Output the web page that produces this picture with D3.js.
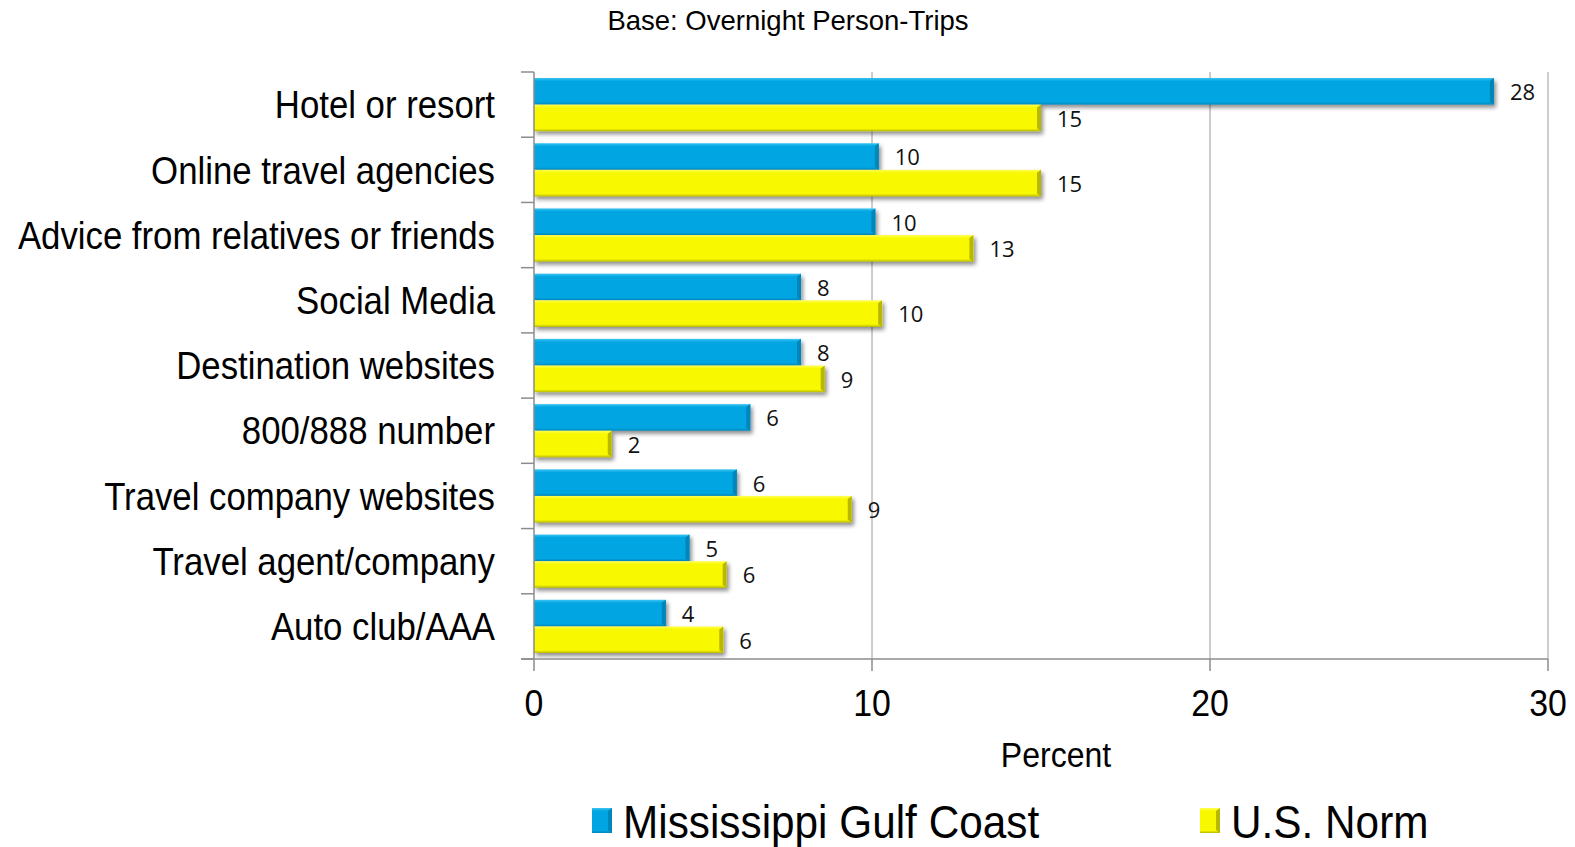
<!DOCTYPE html>
<html>
<head>
<meta charset="utf-8">
<script src="https://cdn.jsdelivr.net/npm/d3@7"></script>
<style>
  html, body { margin: 0; padding: 0; background: #fff; }
  svg { display: block; }
</style>
</head>
<body>
<svg id="chart" width="1575" height="847"></svg>
<script>
// Sources used for planning, overnight person-trips (percent)
const categories = [
  "Hotel or resort",
  "Online travel agencies",
  "Advice from relatives or friends",
  "Social Media",
  "Destination websites",
  "800/888 number",
  "Travel company websites",
  "Travel agent/company",
  "Auto club/AAA"
];
const seriesNames = ["Mississippi Gulf Coast", "U.S. Norm"];
const gulfCoast = [28.4, 10.2, 10.1, 7.9, 7.9, 6.4, 6.0, 4.6, 3.9];
const usNorm    = [15.0, 15.0, 13.0, 10.3, 8.6, 2.3, 9.4, 5.7, 5.6];
const xTicks = [0, 10, 20, 30];

const seriesValues = [gulfCoast, usNorm];
const colors = [
  { base: "#00A5E1", light: "#3CC4F2", dark: "#0086B8" },
  { base: "#F8F800", light: "#FFFF55", dark: "#B8B800" }
];

const svg = d3.select("#chart");
const m = { left: 534, right: 1548, top: 72, bottom: 659 };
const narrow = "'Liberation Sans', Arial, sans-serif";
const squeeze = 0.915;   // horizontal condensing for the narrow-style labels

const x = d3.scaleLinear().domain([0, 30]).range([m.left, m.right]);
const y = d3.scaleBand().domain(categories).range([m.top, m.bottom]).padding(0);
const ySub = d3.scaleBand().domain(seriesNames)
  .range([6, y.bandwidth() - 6]).padding(0);

const defs = svg.append("defs");
const shadow = defs.append("filter").attr("id", "shadow")
  .attr("x", "-5%").attr("y", "-30%").attr("width", "115%").attr("height", "180%");
shadow.append("feGaussianBlur").attr("in", "SourceAlpha").attr("stdDeviation", 2.2);
shadow.append("feOffset").attr("dx", 2).attr("dy", 3).attr("result", "off");
shadow.append("feComponentTransfer").append("feFuncA").attr("type", "linear").attr("slope", 0.45);
const mrg = shadow.append("feMerge");
mrg.append("feMergeNode");
mrg.append("feMergeNode").attr("in", "SourceGraphic");

colors.forEach((c, i) => {
  const g = defs.append("linearGradient").attr("id", "grad" + i)
    .attr("x1", 0).attr("y1", 0).attr("x2", 0).attr("y2", 1);
  g.append("stop").attr("offset", "0%").attr("stop-color", c.light);
  g.append("stop").attr("offset", "12%").attr("stop-color", c.base);
  g.append("stop").attr("offset", "90%").attr("stop-color", c.base);
  g.append("stop").attr("offset", "100%").attr("stop-color", c.dark);
});

// gridlines
svg.append("g").selectAll("line").data(xTicks.filter(d => d > 0)).join("line")
  .attr("x1", d => x(d)).attr("x2", d => x(d))
  .attr("y1", m.top).attr("y2", m.bottom)
  .attr("stroke", "#9a9a9a").attr("stroke-width", 1);

// bars with value labels
const fmt = d3.format(".0f");
const groups = svg.append("g").selectAll("g").data(categories).join("g")
  .attr("transform", d => `translate(0,${y(d)})`);

seriesNames.forEach((s, si) => {
  const vals = seriesValues[si];
  const bar = groups.append("g").attr("filter", "url(#shadow)");
  bar.append("rect")
    .attr("x", x(0))
    .attr("y", ySub(s))
    .attr("width", (d, i) => x(vals[i]) - x(0))
    .attr("height", ySub.bandwidth())
    .attr("fill", `url(#grad${si})`);
  // bevelled right end
  bar.append("path")
    .attr("d", (d, i) => {
      const xe = x(vals[i]), y0 = ySub(s), h = ySub.bandwidth();
      return `M${xe - 4},${y0 + 3} L${xe},${y0} L${xe},${y0 + h} L${xe - 4},${y0 + h - 3} Z`;
    })
    .attr("fill", colors[si].dark);
  groups.append("text")
    .attr("x", (d, i) => x(vals[i]) + 16)
    .attr("y", ySub(s) + ySub.bandwidth() / 2 + 1)
    .attr("dy", "0.36em")
    .attr("font-family", "'Open Sans', 'Noto Sans', sans-serif")
    .attr("font-size", 22)
    .attr("fill", "#111")
    .text((d, i) => fmt(vals[i]));
});

// axes
const axisColor = "#8c8c8c";
const yAxis = svg.append("g");
yAxis.append("line").attr("x1", m.left).attr("x2", m.left)
  .attr("y1", m.top).attr("y2", m.bottom).attr("stroke", axisColor).attr("stroke-width", 1.5);
yAxis.selectAll("line.tick").data(d3.range(categories.length + 1)).join("line")
  .attr("class", "tick")
  .attr("x1", m.left - 13).attr("x2", m.left)
  .attr("y1", i => m.top + i * y.step()).attr("y2", i => m.top + i * y.step())
  .attr("stroke", axisColor).attr("stroke-width", 1.5);
yAxis.selectAll("text").data(categories).join("text")
  .attr("transform", d => `translate(495,${y(d) + y.bandwidth() / 2}) scale(${squeeze},1)`)
  .attr("dy", "0.36em")
  .attr("text-anchor", "end")
  .attr("font-family", narrow)
  .attr("font-size", 38)
  .attr("fill", "#000")
  .text(d => d);

const xAxis = svg.append("g");
xAxis.append("line").attr("x1", m.left - 13).attr("x2", m.right)
  .attr("y1", m.bottom).attr("y2", m.bottom).attr("stroke", axisColor).attr("stroke-width", 1.5);
xAxis.selectAll("line.tick").data(xTicks).join("line")
  .attr("class", "tick")
  .attr("x1", d => x(d)).attr("x2", d => x(d))
  .attr("y1", m.bottom).attr("y2", m.bottom + 12)
  .attr("stroke", axisColor).attr("stroke-width", 1.5);
xAxis.selectAll("text").data(xTicks).join("text")
  .attr("transform", d => `translate(${x(d)},716) scale(${squeeze},1)`)
  .attr("text-anchor", "middle")
  .attr("font-family", narrow)
  .attr("font-size", 37)
  .attr("fill", "#000")
  .text(d => d);

svg.append("text")
  .attr("transform", `translate(1056,767) scale(${squeeze},1)`)
  .attr("text-anchor", "middle")
  .attr("font-family", narrow)
  .attr("font-size", 35)
  .text("Percent");

svg.append("text")
  .attr("x", 788).attr("y", 30)
  .attr("text-anchor", "middle")
  .attr("font-family", "'Liberation Sans', Arial, sans-serif")
  .attr("font-size", 27.5)
  .text("Base: Overnight Person-Trips");

// legend
const legendX = [592, 1200];
const leg = svg.append("g").selectAll("g").data(seriesNames).join("g")
  .attr("transform", (d, i) => `translate(${legendX[i]},808)`);
leg.append("rect").attr("width", 20).attr("height", 25)
  .attr("fill", (d, i) => `url(#grad${i})`);
leg.append("path").attr("d", "M16,3 L20,0 L20,25 L16,22 Z")
  .attr("fill", (d, i) => colors[i].dark);
leg.append("text")
  .attr("transform", `translate(31,13) scale(0.92,1)`)
  .attr("dy", "0.36em")
  .attr("font-family", narrow)
  .attr("font-size", 46)
  .text(d => d);
</script>
</body>
</html>
